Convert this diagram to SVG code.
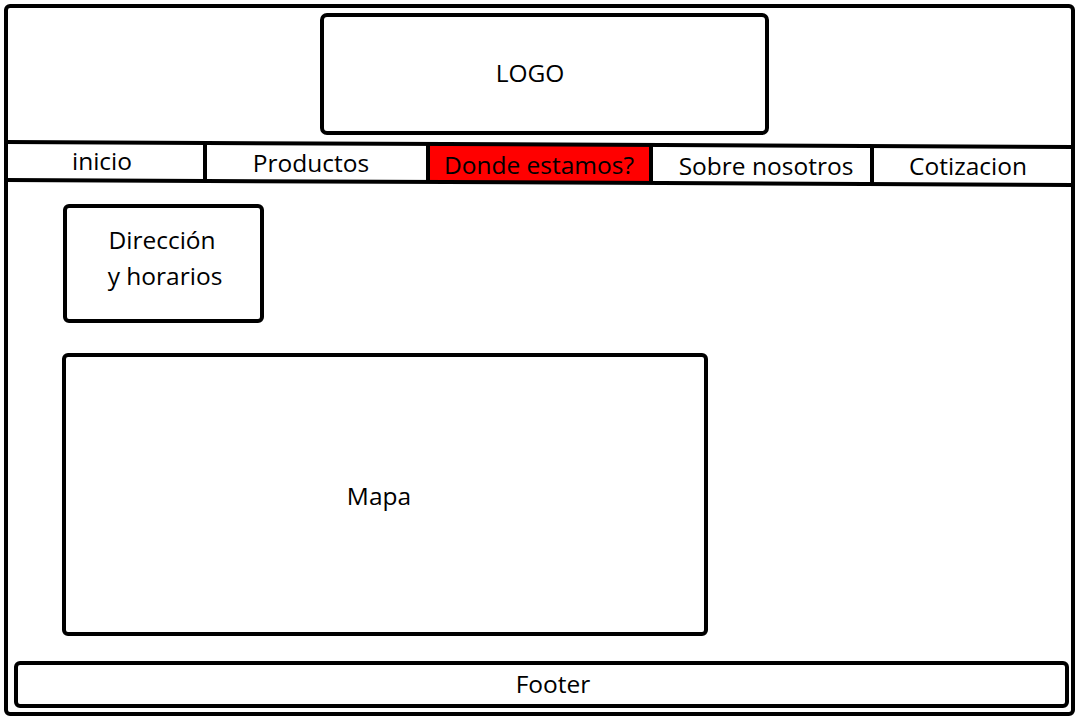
<svg xmlns="http://www.w3.org/2000/svg" width="1080" height="720" viewBox="0 0 1080 720">
<style>
.box{fill:#fff;stroke:#000;stroke-width:4}
.ln{stroke:#000;stroke-width:4;fill:none}
.t{font-family:"Open Sans","Noto Sans","Liberation Sans",sans-serif;font-size:24.5px;fill:#000;text-anchor:middle}
</style>
<rect width="1080" height="720" fill="#fff"/>
<g id="frame"><rect class="box" x="6" y="6" width="1067" height="708" rx="4"/></g>
<g id="logo"><rect class="box" x="322" y="15" width="445" height="118" rx="5"/><text class="t" x="530" y="82">LOGO</text></g>
<g id="nav">
<polygon points="428,144 651,145 651,183 428,182" fill="#ff0000"/>
<line class="ln" x1="6" y1="142" x2="1073" y2="147"/>
<line class="ln" x1="6" y1="180" x2="1073" y2="185"/>
<line class="ln" x1="205" y1="143" x2="205" y2="182"/>
<line class="ln" x1="428" y1="144" x2="428" y2="183"/>
<line class="ln" x1="651" y1="145" x2="651" y2="184"/>
<line class="ln" x1="872" y1="146" x2="872" y2="185"/>
<g id="nav-inicio"><text class="t" x="102" y="170">inicio</text></g>
<g id="nav-productos"><text class="t" x="311" y="172">Productos</text></g>
<g id="nav-donde"><text class="t" x="539" y="174">Donde estamos?</text></g>
<g id="nav-sobre"><text class="t" x="766" y="175">Sobre nosotros</text></g>
<g id="nav-cotizacion"><text class="t" x="968" y="175">Cotizacion</text></g>
</g>
<g id="direccion"><rect class="box" x="65" y="206" width="197" height="115" rx="4"/><text class="t" x="162" y="249">Dirección</text><text class="t" x="165" y="285">y horarios</text></g>
<g id="mapa"><rect class="box" x="64" y="355" width="642" height="279" rx="4"/><text class="t" x="379" y="505">Mapa</text></g>
<g id="footer"><rect class="box" x="16" y="663" width="1051" height="43" rx="4"/><text class="t" x="553" y="693">Footer</text></g>
<g id="connectors"/>
</svg>
